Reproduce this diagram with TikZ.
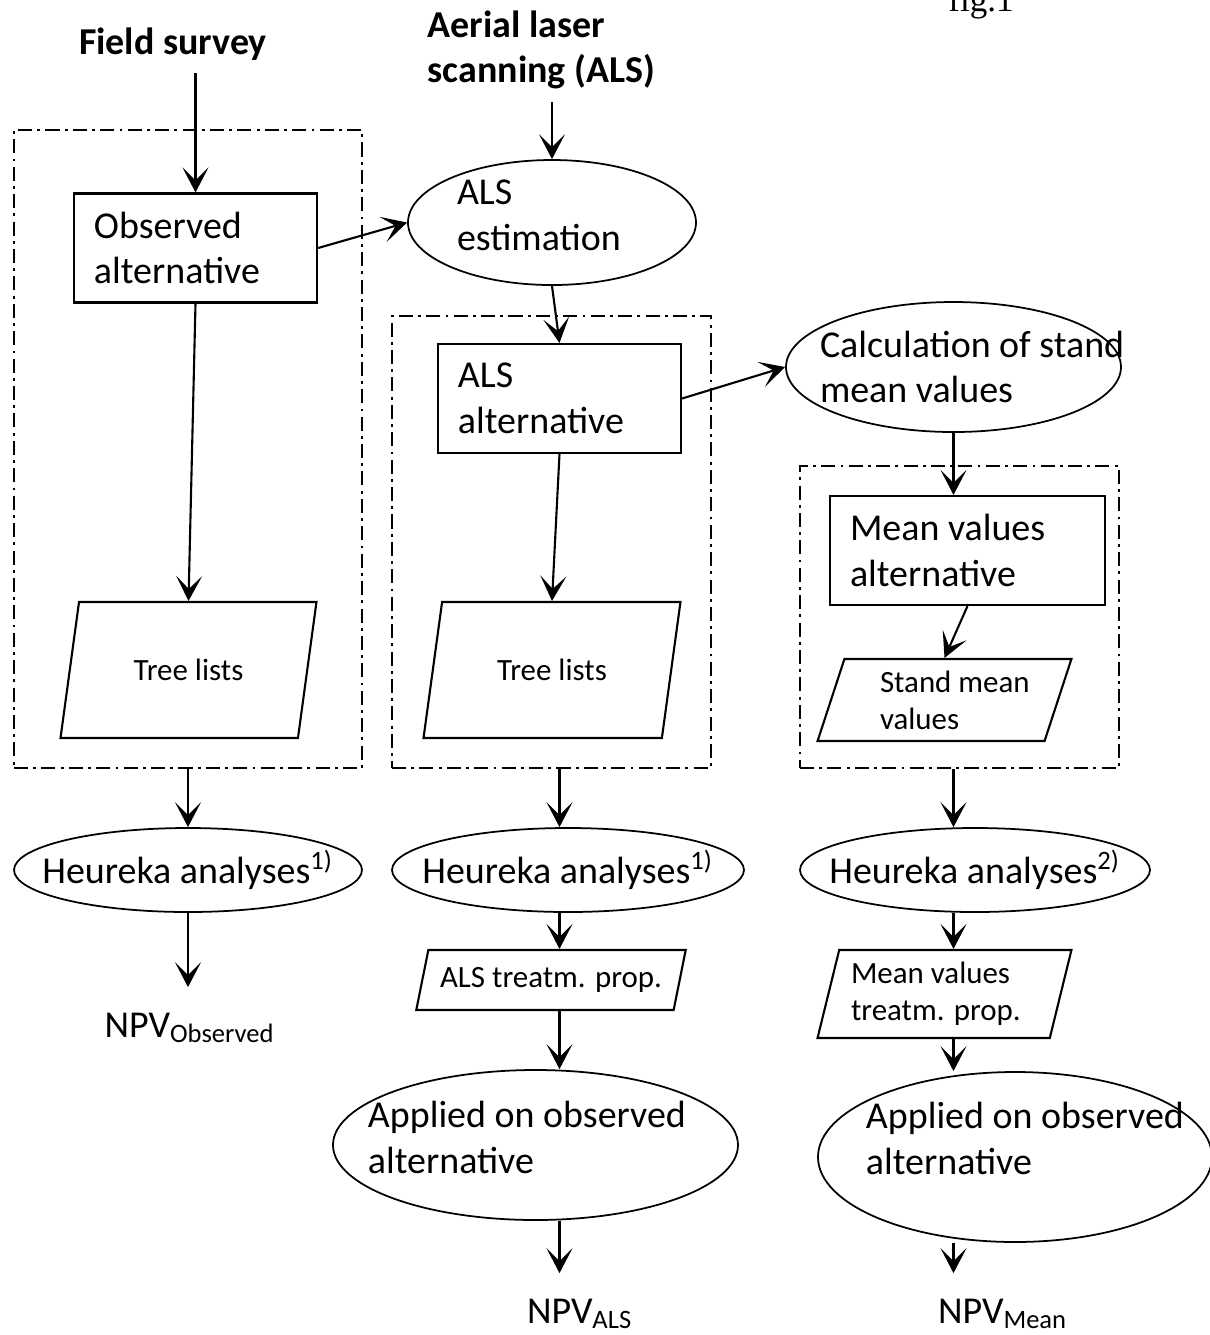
\documentclass[tikz,border=0pt]{standalone}
\usepackage{fontspec}
\setmainfont{Carlito}
\newfontfamily\figfont{Liberation Serif}
\usetikzlibrary{shapes.geometric, arrows.meta, positioning}

\newcommand{\lowpad}[1]{\rule[-#1]{0pt}{0pt}}

\begin{document}
\begin{tikzpicture}[
  font=\fontsize{10.8}{13}\selectfont,
  box/.style={rectangle, draw, line width=0.6pt, align=flush left, inner xsep=0.2cm, minimum height=1.09cm},
  proc/.style={ellipse, draw, line width=0.5pt, inner xsep=-0.4cm, inner ysep=-0.1cm},
  data/.style={trapezium, trapezium left angle=76, trapezium right angle=104, trapezium stretches=true, draw, line width=0.6pt, align=flush left, font=\fontsize{8.8}{10.5}\selectfont},
  group/.style={rectangle, draw, line width=0.5pt, dash pattern=on 4pt off 1.5pt on 0.8pt off 1.5pt},
  source/.style={font=\fontsize{10.8}{13}\selectfont\bfseries, align=left, inner sep=0.12cm},
  result/.style={inner sep=0.25cm},
  arrow/.style={-{Stealth[length=2.5mm, width=2.6mm, inset=1.3mm]}, line width=0.6pt}
]
\useasboundingbox (0,0) rectangle (12.1,-13.35);

\node[font=\figfont\fontsize{10}{12}\selectfont, anchor=base] (fig) at (9.81,-0.11) {fig.1};

% groups
\node[group, minimum width=3.48cm, minimum height=6.38cm] (grp1) at (1.88,-4.49) {};
\node[group, minimum width=3.19cm, minimum height=4.52cm] (grp2) at (5.515,-5.42) {};
\node[group, minimum width=3.19cm, minimum height=3.02cm] (grp3) at (9.595,-6.17) {};

% sources
\node[source] (field) at (1.73,-0.44) {Field survey};
\node[source, anchor=west] (als) at (4.15,-0.50) {Aerial laser\\scanning (ALS)};

% field survey column
\node[box, text width=2.03cm, minimum width=2.43cm] (obs) at (1.955,-2.48) {Observed\\alternative};
\node[data, minimum width=2.57cm, minimum height=1.36cm, align=center] (tree1) at (1.885,-6.70) {Tree lists};
\node[proc, minimum width=3.48cm, minimum height=0.84cm] (heu1) at (1.88,-8.70) {Heureka analyses\textsuperscript{1)}};
\node[result] (npvobs) at (1.90,-10.28) {NPV\textsubscript{Observed}};

% ALS column
\node[proc, text width=1.9cm, align=flush left, minimum width=2.88cm, minimum height=1.25cm] (estim) at (5.52,-2.225) {ALS\\estimation\lowpad{0.15cm}};
\node[box, text width=2.03cm, minimum width=2.43cm] (alsalt) at (5.595,-3.985) {ALS\\alternative};
\node[data, minimum width=2.58cm, minimum height=1.36cm, align=center] (tree2) at (5.52,-6.70) {Tree lists};
\node[proc, minimum width=3.52cm, minimum height=0.84cm] (heu2) at (5.68,-8.70) {Heureka analyses\textsuperscript{1)}};
\node[data, minimum width=2.58cm, minimum height=0.60cm, align=center] (treatm1) at (5.51,-9.80) {ALS treatm. prop.};
\node[proc, text width=3.35cm, align=flush left, minimum width=4.05cm, minimum height=1.50cm] (applied1) at (5.355,-11.45) {Applied on observed\\alternative\lowpad{0.15cm}};
\node[result] (npvals) at (5.80,-13.14) {NPV\textsubscript{ALS}};

% mean values column
\node[proc, text width=2.67cm, align=flush left, minimum width=3.35cm, minimum height=1.30cm] (calc) at (9.535,-3.67) {\mbox{Calculation of stand}\\mean values};
\node[box, text width=2.35cm, minimum width=2.75cm] (meanalt) at (9.675,-5.505) {Mean values\\alternative};
\node[data, text width=1.29cm, minimum width=2.55cm, minimum height=0.76cm] (standmean) at (9.445,-7.00) {\mbox{Stand mean}\\values};
\node[proc, minimum width=3.50cm, minimum height=0.84cm] (heu3) at (9.75,-8.70) {Heureka analyses\textsuperscript{2)}};
\node[data, text width=1.87cm, minimum width=2.55cm, minimum height=0.88cm] (treatm2) at (9.445,-9.94) {Mean values\\treatm. prop.};
\node[proc, text width=2.98cm, align=flush left, minimum width=3.94cm, minimum height=1.70cm] (applied2) at (10.15,-11.57) {\mbox{Applied on observed}\\alternative\lowpad{0.37cm}};
\node[result] (npvmean) at (10.03,-13.14) {NPV\textsubscript{Mean}};

% connections
\draw[arrow] (field.south -| obs.north) -- (obs.north);
\draw[arrow] (als.south -| estim.north) -- (estim.north);
\draw[arrow] (obs.east) -- (estim.west);
\draw[arrow] (obs.south) -- (tree1.north);
\draw[arrow] (estim.south) -- (alsalt.north);
\draw[arrow] (alsalt.south) -- (tree2.north);
\draw[arrow] (alsalt.east) -- (calc.west);
\draw[arrow] (calc.south) -- (calc.south |- meanalt.north);
\draw[arrow] (meanalt.south) -- (standmean.north);

\draw[arrow] (grp1.south) -- (heu1.north);
\draw[arrow] (heu1.south) -- (heu1.south |- npvobs.north);

\draw[arrow] (grp2.south -| alsalt.south) -- (heu2.north -| alsalt.south);
\draw[arrow] (heu2.south -| alsalt.south) -- (treatm1.north -| alsalt.south);
\draw[arrow] (treatm1.south -| alsalt.south) -- (applied1.north -| alsalt.south);
\draw[arrow] (applied1.south -| alsalt.south) -- (npvals.north -| alsalt.south);

\draw[arrow] (grp3.south -| calc.south) -- (heu3.north -| calc.south);
\draw[arrow] (heu3.south -| calc.south) -- (treatm2.north -| calc.south);
\draw[arrow] (treatm2.south -| calc.south) -- (applied2.north -| calc.south);
\draw[arrow] (applied2.south -| calc.south) -- (npvmean.north -| calc.south);
\end{tikzpicture}
\end{document}
